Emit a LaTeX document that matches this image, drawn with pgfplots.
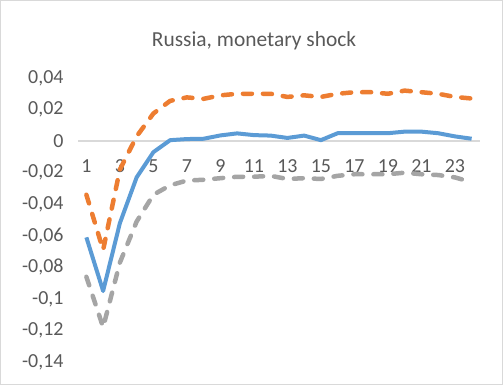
\documentclass[border=0pt]{standalone}
\usepackage{pgfplots}
\pgfplotsset{compat=1.18}
\usepackage{fontspec}
\setmainfont{Carlito}

\definecolor{xlblue}{HTML}{5B9BD5}
\definecolor{xlorange}{HTML}{ED7D31}
\definecolor{xlgray}{HTML}{A5A5A5}
\definecolor{xltext}{HTML}{595959}
\definecolor{xlgrid}{HTML}{D9D9D9}

\pgfplotstableread{
x  mid     up      low
1  -0.061  -0.034  -0.086
2  -0.095  -0.069  -0.118
3  -0.052  -0.018  -0.077
4  -0.023   0.003  -0.051
5  -0.007   0.0175 -0.034
6   0.0006  0.0255 -0.028
7   0.0013  0.0277 -0.025
8   0.0015  0.0268 -0.0245
9   0.0036  0.029  -0.0235
10  0.0049  0.030  -0.0226
11  0.0038  0.030  -0.0226
12  0.0035  0.030  -0.022
13  0.002   0.028  -0.024
14  0.0035  0.029  -0.0235
15  0.0006  0.028  -0.024
16  0.005   0.030  -0.022
17  0.005   0.031  -0.021
18  0.005   0.031  -0.021
19  0.005   0.030  -0.021
20  0.006   0.032  -0.020
21  0.006   0.031  -0.021
22  0.005   0.030  -0.0215
23  0.003   0.028  -0.023
24  0.0015  0.027  -0.026
}\irf

\begin{document}
\begin{tikzpicture}[x=1bp,y=1bp]
  \useasboundingbox (0,0) rectangle (503,385);
  \draw[xlgrid, line width=1bp] (0.5,0.5) rectangle (502.5,384.5);
  \node[anchor=base, text=xltext, font=\fontsize{21.5}{24}\selectfont] at (254,339) {Russia, monetary shock};

  \begin{axis}[
      at={(78bp,23bp)}, anchor=south west,
      width=402bp, height=284bp, scale only axis=true,
      xmin=0.5, xmax=24.5, ymin=-0.14, ymax=0.04,
      axis x line=middle, axis y line=left,
      x axis line style={xlgrid, line width=1.5bp, -},
      y axis line style={draw=none},
      hide obscured x ticks=false, hide obscured y ticks=false,
      major tick length=0pt,
      xtick={1,3,...,23},
      ytick={-0.14,-0.12,-0.1,-0.08,-0.06,-0.04,-0.02,0,0.02,0.04},
      yticklabel style={/pgf/number format/use comma, /pgf/number format/fixed, /pgf/number format/precision=2, xshift=-11bp},
      /pgf/number format/assume math mode=true,
      ticklabel style={text=xltext, font=\fontsize{20}{22}\selectfont},
      xticklabel style={yshift=-15bp},
      clip=false,
    ]
    \addplot[xlorange, line width=4.5bp, line cap=round, line join=round, dash pattern=on 9bp off 11bp] table[x=x, y=up] {\irf};
    \addplot[xlgray, line width=4.5bp, line cap=round, line join=round, dash pattern=on 9bp off 11bp] table[x=x, y=low] {\irf};
    \addplot[xlblue, line width=4bp, line join=round] table[x=x, y=mid] {\irf};
  \end{axis}
\end{tikzpicture}
\end{document}
